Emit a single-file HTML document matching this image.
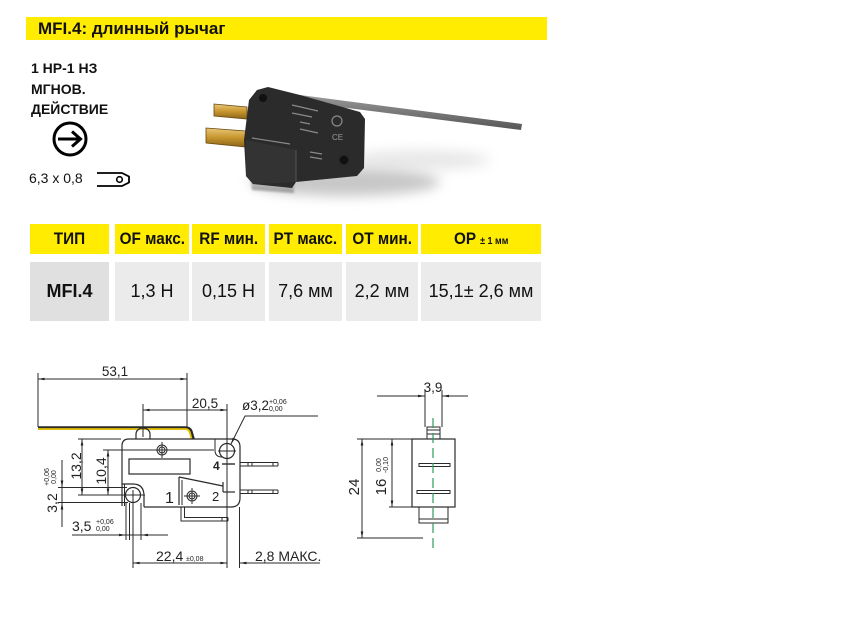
<!DOCTYPE html>
<html><head><meta charset="utf-8">
<style>
html,body{margin:0;padding:0;background:#fff;}
body{width:858px;height:638px;position:relative;overflow:hidden;font-family:"Liberation Sans","DejaVu Sans",sans-serif;color:#111;}
.a{position:absolute;}
.bar{left:26px;top:17px;width:521px;height:23px;background:#ffec00;}
.title{left:38px;top:17px;height:23px;line-height:23px;font-weight:bold;font-size:17px;}
.lt{left:31px;font-weight:bold;font-size:14px;line-height:16px;}
.cell{position:absolute;display:flex;align-items:center;justify-content:center;white-space:nowrap;}
.h{top:224px;height:30px;background:#ffec00;font-weight:bold;font-size:17px;}
.h span{display:inline-block;transform:scaleX(0.9);}
.d{top:262px;height:59px;background:#ebebeb;font-size:18px;}
</style></head>
<body>
<div class="a bar"></div>
<div class="a title">MFI.4: длинный рычаг</div>
<div class="a lt" style="top:60px">1 НР-1 НЗ</div>
<div class="a lt" style="top:81px">МГНОВ.</div>
<div class="a lt" style="top:101px">ДЕЙСТВИЕ</div>
<div class="a" style="left:29px;top:170px;font-size:14px;line-height:16px;">6,3 x 0,8</div>

<!-- table -->
<div class="cell h" style="left:30px;width:79px;"><span>ТИП</span></div>
<div class="cell h" style="left:115px;width:74px;"><span>OF макс.</span></div>
<div class="cell h" style="left:192px;width:73px;"><span>RF мин.</span></div>
<div class="cell h" style="left:269px;width:73px;"><span>PT макс.</span></div>
<div class="cell h" style="left:346px;width:72px;"><span>OT мин.</span></div>
<div class="cell h" style="left:421px;width:120px;"><span>OP <span style="font-size:10px;transform:none;">± 1 мм</span></span></div>

<div class="cell d" style="left:30px;width:79px;background:#e0e0e0;font-weight:bold;">MFI.4</div>
<div class="cell d" style="left:115px;width:74px;">1,3 Н</div>
<div class="cell d" style="left:192px;width:73px;">0,15 Н</div>
<div class="cell d" style="left:269px;width:73px;">7,6 мм</div>
<div class="cell d" style="left:346px;width:72px;">2,2 мм</div>
<div class="cell d" style="left:421px;width:120px;">15,1± 2,6 мм</div>

<svg class="a" style="left:0;top:0" width="858" height="638" viewBox="0 0 858 638" xmlns="http://www.w3.org/2000/svg">
<defs>
<marker id="ar" viewBox="0 0 10 4" refX="10" refY="2" markerWidth="7" markerHeight="2.6" markerUnits="userSpaceOnUse" orient="auto-start-reverse"><path d="M0,0 L10,2 L0,4z" fill="#222"/></marker>
<filter id="bl" x="-50%" y="-50%" width="200%" height="200%"><feGaussianBlur stdDeviation="6"/></filter>
<filter id="bl2" x="-50%" y="-50%" width="200%" height="200%"><feGaussianBlur stdDeviation="1"/></filter>
<linearGradient id="gold" x1="0" y1="0" x2="0" y2="1"><stop offset="0" stop-color="#e9c77a"/><stop offset="0.5" stop-color="#c7962e"/><stop offset="1" stop-color="#8a6418"/></linearGradient>
<linearGradient id="lev" x1="0" y1="0" x2="0" y2="1"><stop offset="0" stop-color="#9a9a9a"/><stop offset="1" stop-color="#555"/></linearGradient>
<linearGradient id="act" x1="0" y1="0" x2="0" y2="1"><stop offset="0" stop-color="#e4e4e4"/><stop offset="1" stop-color="#9c9c9c"/></linearGradient>
</defs>

<!-- icons -->
<circle cx="70" cy="139" r="16" fill="none" stroke="#000" stroke-width="3"/>
<line x1="58" y1="139" x2="80" y2="139" stroke="#000" stroke-width="3"/>
<polyline points="72,131.5 80.5,139 72,146.5" fill="none" stroke="#000" stroke-width="3" stroke-linejoin="miter"/>
<path d="M97,173 L122,173 L129,176.5 L129,182.5 L122,186 L97,186" fill="none" stroke="#000" stroke-width="1.8"/>
<circle cx="119.5" cy="179.5" r="2.8" fill="none" stroke="#000" stroke-width="1.6"/>

<!-- photo -->
<ellipse cx="345" cy="182" rx="95" ry="14" fill="#9a9a9a" opacity="0.55" filter="url(#bl)"/>
<ellipse cx="420" cy="160" rx="70" ry="10" fill="#bdbdbd" opacity="0.35" filter="url(#bl)"/>
<polygon points="300,95 522,124 521,130 300,102" fill="url(#lev)"/>
<polygon points="214,104 247,107 247,119 214,116" fill="url(#gold)" stroke="#6a4a10" stroke-width="0.8"/>
<polygon points="206,128 246,131 246,147 206,143" fill="url(#gold)" stroke="#6a4a10" stroke-width="0.8"/>
<polygon points="249,168 294,170 294,193 252,190" fill="url(#act)" filter="url(#bl2)"/>
<polygon points="257,90 268,87 300,95 360,112 365,119 364,168 357,176 296,182 292,188 253,184 246,176 244,140 249,100" fill="#2b2b2b"/>
<polygon points="246,140 296,150 296,182 253,184 246,176" fill="#333"/>
<line x1="296" y1="150" x2="296" y2="182" stroke="#555" stroke-width="1"/>
<circle cx="263" cy="98" r="4" fill="#111"/>
<circle cx="344" cy="160" r="4.5" fill="#111"/>
<g stroke="#8a8a8a" stroke-width="1.2">
<line x1="292" y1="105" x2="318" y2="111"/>
<line x1="292" y1="113" x2="312" y2="117"/>
<line x1="300" y1="122" x2="310" y2="124"/>
<line x1="300" y1="129" x2="318" y2="133"/>
<line x1="310" y1="152" x2="322" y2="154"/>
<line x1="310" y1="157" x2="322" y2="159"/>
<line x1="252" y1="138" x2="290" y2="144"/>
</g>
<circle cx="337" cy="121" r="5" fill="none" stroke="#8a8a8a" stroke-width="1.2"/>
<text x="332" y="140" font-size="8" fill="#999" font-family="Liberation Sans">CE</text>

<!-- ============ DRAWING (front view) ============ -->
<g stroke="#2a2a2a" stroke-width="1" fill="none">
<!-- lever -->
<path d="M38,428 L185,428 Q190,428 191,432 L193,439" stroke="#2a2a2a" stroke-width="3.6"/>
<path d="M38,429 L185,429 Q189,429 190,433 L191.5,439" stroke="#e8c400" stroke-width="1.8"/>
<!-- 53,1 -->
<line x1="38" y1="373" x2="38" y2="427"/>
<line x1="187" y1="373" x2="187" y2="428"/>
<line x1="38" y1="379" x2="187" y2="379" marker-start="url(#ar)" marker-end="url(#ar)"/>
<!-- 20,5 -->
<line x1="143" y1="404" x2="143" y2="437"/>
<line x1="227" y1="404" x2="227" y2="568"/>
<line x1="143" y1="410" x2="227" y2="410" marker-start="url(#ar)" marker-end="url(#ar)"/>
<!-- ø leader -->
<polyline points="231,444 245,416 318,416" marker-start="url(#ar)"/>
<!-- body -->
<path d="M122,446 Q122,439 129,439 L232,439 Q240,439 240,447 L240,498 Q240,507 231,507 L144,507" stroke-width="1.2"/>
<line x1="122" y1="446" x2="122" y2="506" stroke-width="1.2"/>
<line x1="124.5" y1="484" x2="124.5" y2="506"/>
<path d="M122,484 L133,484 Q144,484 144,496 L144,507" stroke-width="1.2"/>
<!-- bump -->
<path d="M136,439 L136,434 A7,6 0 0 1 150,434 L150,439" stroke-width="1.2"/>
<!-- window -->
<rect x="129" y="459" width="61" height="15" stroke-width="1.2"/>
<!-- top screw -->
<line x1="103" y1="450" x2="214" y2="450"/>
<circle cx="162" cy="450" r="5"/>
<circle cx="162" cy="450" r="3"/>
<line x1="162" y1="442" x2="162" y2="458"/>
<!-- right hole + boss -->
<circle cx="227" cy="451" r="7.5" stroke-width="1.2"/>
<line x1="218" y1="451" x2="236" y2="451"/>
<path d="M215,439 L215,450 Q215,457 222,457"/>
<!-- lower-left hole -->
<circle cx="133" cy="495" r="7.5" stroke-width="1.2"/>
<line x1="123" y1="495" x2="145" y2="495"/>
<!-- lower screw -->
<circle cx="192" cy="496" r="5"/>
<circle cx="192" cy="496" r="3"/>
<line x1="184" y1="496" x2="200" y2="496"/>
<line x1="192" y1="488" x2="192" y2="504"/>
<!-- actuator leaf -->
<line x1="179" y1="477" x2="223" y2="486" stroke-width="1.2"/>
<line x1="179" y1="477" x2="179" y2="505" stroke-width="1.2"/>
<line x1="182" y1="480" x2="182" y2="505"/>
<line x1="223" y1="482" x2="223" y2="492" stroke-width="1.2"/>
<line x1="223" y1="492" x2="235" y2="492" stroke-width="1.2"/>
<line x1="222" y1="464" x2="235" y2="464" stroke-width="1.4"/>
<!-- bent terminal -->
<path d="M181,507 L181,521 L228,521"/>
<path d="M184.5,507 L184.5,517.5 L228,517.5"/>
<line x1="222" y1="517.5" x2="222" y2="521"/>
<line x1="228" y1="517.5" x2="228" y2="521"/>
<!-- pins -->
<line x1="240" y1="462.5" x2="278" y2="462.5"/>
<line x1="240" y1="466" x2="278" y2="466"/>
<line x1="248" y1="462.5" x2="248" y2="466"/>
<line x1="252" y1="462.5" x2="252" y2="466"/>
<line x1="273" y1="462.5" x2="273" y2="466"/>
<line x1="278" y1="462.5" x2="278" y2="466"/>
<line x1="240" y1="490" x2="278" y2="490"/>
<line x1="240" y1="493.5" x2="278" y2="493.5"/>
<line x1="248" y1="490" x2="248" y2="493.5"/>
<line x1="252" y1="490" x2="252" y2="493.5"/>
<line x1="273" y1="490" x2="273" y2="493.5"/>
<line x1="278" y1="490" x2="278" y2="493.5"/>
<!-- 13,2 -->
<line x1="78" y1="439" x2="121" y2="439"/>
<line x1="78" y1="495" x2="143" y2="495"/>
<line x1="82" y1="439" x2="82" y2="495" marker-start="url(#ar)" marker-end="url(#ar)"/>
<!-- 10,4 -->
<line x1="108" y1="450" x2="108" y2="495" marker-start="url(#ar)" marker-end="url(#ar)"/>
<!-- 3,2 -->
<line x1="58" y1="487.5" x2="127" y2="487.5"/>
<line x1="58" y1="502.5" x2="128" y2="502.5"/>
<line x1="62" y1="460" x2="62" y2="527"/>
<!-- 3,5 -->
<line x1="126" y1="503" x2="126" y2="540"/>
<line x1="129.5" y1="503" x2="129.5" y2="540"/>
<line x1="133" y1="490" x2="133" y2="568"/>
<line x1="141" y1="503" x2="141" y2="540"/>
<line x1="72" y1="535" x2="168" y2="535"/>
<!-- 22,4 / 2,8 -->
<line x1="239.5" y1="507" x2="239.5" y2="568"/>
<line x1="133" y1="563" x2="227" y2="563" marker-start="url(#ar)" marker-end="url(#ar)"/>
<line x1="239.5" y1="563" x2="320" y2="563"/>
</g>
<!-- outside arrows -->
<g fill="#222">
<path d="M62,487.5 L60.7,480.5 L63.3,480.5z"/>
<path d="M62,502.5 L60.7,509.5 L63.3,509.5z"/>
<path d="M126,535 L119,533.7 L119,536.3z"/>
<path d="M141,535 L148,533.7 L148,536.3z"/>
<path d="M239.5,563 L246.5,561.7 L246.5,564.3z"/>
</g>

<!-- drawing texts -->
<g font-family="Liberation Sans, sans-serif" fill="#222">
<text x="115" y="376" font-size="13.5" text-anchor="middle">53,1</text>
<text x="205" y="408" font-size="13.5" text-anchor="middle">20,5</text>
<text x="242" y="410" font-size="13.5">ø3,2</text>
<text x="269" y="404" font-size="7">+0,06</text>
<text x="269" y="411" font-size="7">0,00</text>
<text x="81" y="466" font-size="14" text-anchor="middle" transform="rotate(-90 81 466)">13,2</text>
<text x="106" y="471" font-size="14" text-anchor="middle" transform="rotate(-90 106 471)">10,4</text>
<text x="57" y="503" font-size="14" text-anchor="middle" transform="rotate(-90 57 503)">3,2</text>
<text x="49" y="477" font-size="7" text-anchor="middle" transform="rotate(-90 49 477)">+0,06</text>
<text x="56" y="477" font-size="7" text-anchor="middle" transform="rotate(-90 56 477)">0,00</text>
<text x="72" y="531" font-size="14">3,5</text>
<text x="96" y="524" font-size="7">+0,06</text>
<text x="96" y="531" font-size="7">0,00</text>
<text x="156" y="561" font-size="14">22,4</text>
<text x="186" y="561" font-size="7">±0,08</text>
<text x="255" y="561" font-size="14">2,8 МАКС.</text>
<text x="165" y="503" font-size="16">1</text>
<text x="212" y="501" font-size="13">2</text>
<text x="213" y="470" font-size="12" font-weight="bold">4</text>
</g>

<!-- ============ side view ============ -->
<g stroke="#2a2a2a" stroke-width="1" fill="none">
<line x1="377" y1="396" x2="425" y2="396"/>
<line x1="442" y1="396" x2="468" y2="396"/>
<line x1="425" y1="390" x2="425" y2="427"/>
<line x1="442" y1="390" x2="442" y2="427"/>
<rect x="427" y="427" width="13" height="12"/>
<line x1="427" y1="430" x2="440" y2="430"/>
<line x1="427" y1="434" x2="440" y2="434"/>
<rect x="412" y="439" width="43" height="68" stroke-width="1.2"/>
<rect x="419" y="507" width="29" height="16"/>
<line x1="419" y1="519" x2="448" y2="519"/>
<rect x="419" y="463.5" width="31" height="3"/>
<rect x="417" y="490.5" width="33" height="3"/>
<!-- 16 -->
<line x1="389" y1="439" x2="412" y2="439"/>
<line x1="389" y1="507" x2="412" y2="507"/>
<line x1="392" y1="439" x2="392" y2="507" marker-start="url(#ar)" marker-end="url(#ar)"/>
<!-- 24 -->
<line x1="357" y1="439" x2="389" y2="439"/>
<line x1="357" y1="538" x2="423" y2="538"/>
<line x1="362" y1="439" x2="362" y2="538" marker-start="url(#ar)" marker-end="url(#ar)"/>
</g>
<g fill="#222">
<path d="M425,396 L418,394.7 L418,397.3z"/>
<path d="M442,396 L449,394.7 L449,397.3z"/>
</g>
<line x1="433" y1="418" x2="433" y2="548" stroke="#2f9a5a" stroke-width="1.2" stroke-dasharray="10,5"/>
<g font-family="Liberation Sans, sans-serif" fill="#222">
<text x="433" y="392" font-size="13.5" text-anchor="middle">3,9</text>
<text x="386" y="487" font-size="15" text-anchor="middle" transform="rotate(-90 386 487)">16</text>
<text x="381" y="465" font-size="7" text-anchor="middle" transform="rotate(-90 381 465)">0,00</text>
<text x="388" y="465" font-size="7" text-anchor="middle" transform="rotate(-90 388 465)">-0,10</text>
<text x="359" y="487" font-size="15" text-anchor="middle" transform="rotate(-90 359 487)">24</text>
</g>
</svg>
</body></html>
